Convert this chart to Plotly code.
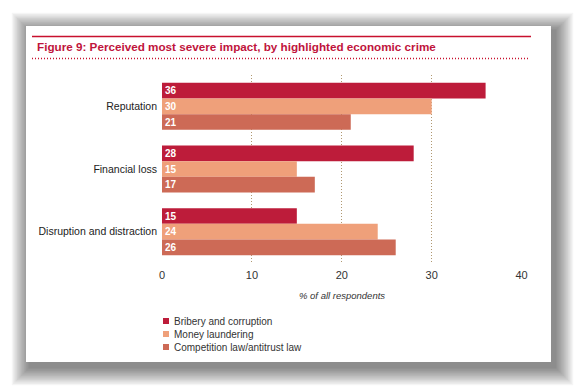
import plotly.graph_objects as go

categories = ["Reputation", "Financial loss", "Disruption and distraction"]
series_names = ["Bribery and corruption", "Money laundering", "Competition law/antitrust law"]
bribery = [36, 28, 15]
money_laundering = [30, 15, 24]
competition = [21, 17, 26]
series_values = [bribery, money_laundering, competition]
colors = ["#BD1C3A", "#EFA07A", "#CD6A56"]
x_ticks = [0, 10, 20, 30, 40]

W, H = 577, 388
L, R, T, B = 162, 522, 75, 263  # plot area pixels


def px(x):
    return (x - L) / (R - L)


def py(y):
    return (B - y) / (B - T)


fig = go.Figure()
for name, vals, col in zip(series_names, series_values, colors):
    fig.add_trace(go.Bar(
        y=categories, x=vals, name=name, orientation="h",
        marker=dict(color=col, line=dict(width=0)),
        text=[str(v) for v in vals], textposition="inside", textangle=0,
        insidetextanchor="start", constraintext="none",
        textfont=dict(color="white", size=10, family="Liberation Sans", weight="bold"),
        showlegend=False, cliponaxis=False,
    ))

shapes = []
# card shadow
cx0, cy0, cx1, cy1 = 26, 26, 551, 362
dx, dy = 4, 5
for k in range(1, 15):
    s = k * 1.3
    shapes.append(dict(type="rect", xref="paper", yref="paper", layer="below",
                       x0=px(cx0 + dx - s), x1=px(cx1 + dx + s),
                       y0=py(cy1 + dy + s), y1=py(cy0 + dy - s),
                       fillcolor="rgba(0,0,0,0.04)", line=dict(width=0)))
# card
shapes.append(dict(type="rect", xref="paper", yref="paper", layer="below",
                   x0=px(cx0), x1=px(cx1), y0=py(cy1), y1=py(cy0),
                   fillcolor="white", line=dict(width=0)))
# red rule and dotted rule
shapes.append(dict(type="line", xref="paper", yref="paper",
                   x0=px(32), x1=px(531), y0=py(36.5), y1=py(36.5),
                   line=dict(color="#C8102E", width=1.5)))
shapes.append(dict(type="line", xref="paper", yref="paper",
                   x0=px(32), x1=px(530), y0=py(58.5), y1=py(58.5),
                   line=dict(color="#C8102E", width=1.3, dash="1px,2px")))

annotations = [dict(
    text="<b>Figure 9: Perceived most severe impact, by highlighted economic crime</b>",
    xref="paper", yref="paper", x=px(35), y=py(46.5), xanchor="left", yanchor="middle",
    showarrow=False, font=dict(size=11.7, color="#C0143C", family="Liberation Sans"))]

# legend
leg_y = [321, 334, 347]
for name, col, yy in zip(series_names, colors, leg_y):
    shapes.append(dict(type="rect", xref="paper", yref="paper",
                       x0=px(163), x1=px(169), y0=py(yy + 3), y1=py(yy - 3),
                       fillcolor=col, line=dict(width=0)))
    annotations.append(dict(text=name, xref="paper", yref="paper", x=px(172), y=py(yy),
                            xanchor="left", yanchor="middle", showarrow=False,
                            font=dict(size=10, color="#333333", family="Liberation Sans")))

# x axis title
annotations.append(dict(text="<i>% of all respondents</i>", xref="paper", yref="paper",
                        x=0.5, y=py(295), xanchor="center", yanchor="middle", showarrow=False,
                        font=dict(size=9.5, color="#333333", family="Liberation Sans")))

fig.update_layout(
    width=W, height=H,
    margin=dict(l=L, r=W - R, t=T, b=H - B, pad=0),
    paper_bgcolor="white", plot_bgcolor="rgba(0,0,0,0)",
    barmode="group", bargap=0.25, bargroupgap=0,
    uniformtext=dict(mode=False),
    shapes=shapes, annotations=annotations,
    font=dict(family="Liberation Sans", color="#333333"),
    xaxis=dict(range=[0, 40.05], tickvals=x_ticks, ticktext=[str(t) for t in x_ticks],
               showgrid=True, gridcolor="#B09870", griddash="1px,2px", gridwidth=1,
               zeroline=False, showline=False, ticks="", ticklabelstandoff=4,
               tickfont=dict(size=11, color="#333333")),
    yaxis=dict(categoryorder="array", categoryarray=categories, autorange="reversed",
               showgrid=False, zeroline=False, showline=False, ticks="",
               ticklabelstandoff=4, tickfont=dict(size=10.5, color="#222222")),
)

fig.write_html("out.html", config={"displayModeBar": False},
               post_script="document.body.style.margin='0';document.body.style.padding='0';")
